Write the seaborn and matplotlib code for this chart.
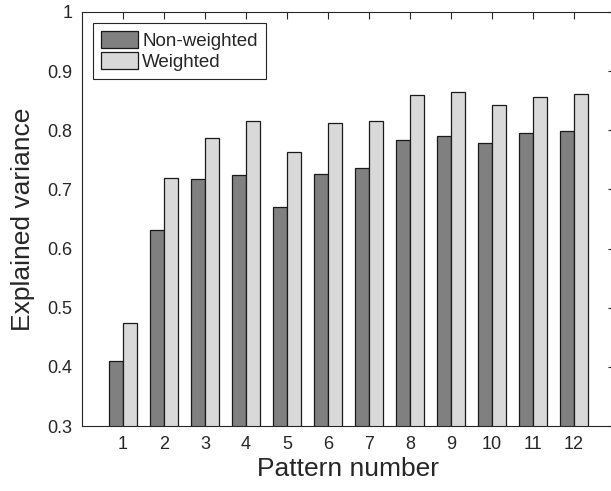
import matplotlib
matplotlib.use("Agg")
import matplotlib.pyplot as plt
import seaborn as sns
import pandas as pd
from matplotlib.patches import Patch

patterns = ["1", "2", "3", "4", "5", "6", "7", "8", "9", "10", "11", "12"]
non_weighted = [0.410, 0.631, 0.717, 0.725, 0.670, 0.726, 0.737, 0.783, 0.791, 0.778, 0.795, 0.799]
weighted = [0.474, 0.719, 0.787, 0.815, 0.764, 0.812, 0.816, 0.860, 0.865, 0.842, 0.856, 0.861]
series = ["Non-weighted", "Weighted"]
yticks = [0.3, 0.4, 0.5, 0.6, 0.7, 0.8, 0.9, 1.0]
ytick_labels = ["0.3", "0.4", "0.5", "0.6", "0.7", "0.8", "0.9", "1"]

df = pd.DataFrame({
    "Pattern": patterns * 2,
    "Series": [series[0]] * len(patterns) + [series[1]] * len(patterns),
    "Value": non_weighted + weighted,
})

sns.set_style("white")
plt.rcParams["font.family"] = ["Liberation Sans", "DejaVu Sans"]
txt = "#262626"
spine_c = "#262626"

fig = plt.figure(figsize=(6.11, 4.91), dpi=100)
ax = fig.add_axes([82 / 611, 1 - 426.1 / 491, (614.7 - 82) / 611, (426.1 - 12) / 491])

colors = ["#808080", "#d9d9d9"]
sns.barplot(data=df, x="Pattern", y="Value", hue="Series", order=patterns,
            hue_order=series, palette=colors, width=0.68, gap=0,
            edgecolor="#1a1a1a", linewidth=0.9, saturation=1, ax=ax,
            legend=False)

ax.set_xlim(-1, 12)
ax.set_ylim(0.3, 1.0)
ax.set_yticks(yticks)
ax.set_yticklabels(ytick_labels)

for s in ax.spines.values():
    s.set_color(spine_c)
    s.set_linewidth(0.8)
    s.set_visible(True)

ax.tick_params(axis="both", direction="in", length=5, width=0.8, color=spine_c,
               labelsize=13, labelcolor=txt, top=True, right=True)
ax.tick_params(axis="y", pad=7)
ax.tick_params(axis="x", pad=7)

ax.set_xlabel("Pattern number", fontsize=19, color=txt, labelpad=3)
ax.set_ylabel("Explained variance", fontsize=19, color=txt, labelpad=9)

handles = [Patch(facecolor=colors[0], edgecolor="#1a1a1a", linewidth=0.9),
           Patch(facecolor=colors[1], edgecolor="#1a1a1a", linewidth=0.9)]
leg = ax.legend(handles, series, loc="upper left", fontsize=13.5,
                frameon=True, fancybox=False, framealpha=1, edgecolor="#262626",
                handlelength=1.95, handleheight=1.0, handletextpad=0.25,
                borderaxespad=0.6, borderpad=0.42, labelspacing=0.12)
leg.get_frame().set_linewidth(0.8)
for t in leg.get_texts():
    t.set_color(txt)

fig.savefig("out.png", dpi=100)
